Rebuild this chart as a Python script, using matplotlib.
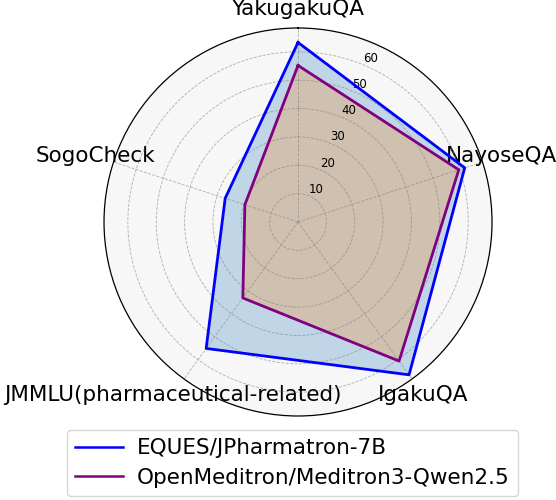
import numpy as np
import matplotlib
matplotlib.use("Agg")
import matplotlib.pyplot as plt

categories = ["YakugakuQA", "NayoseQA", "IgakuQA", "JMMLU(pharmaceutical-related)", "SogoCheck"]
series_names = ["EQUES/JPharmatron-7B", "OpenMeditron/Meditron3-Qwen2.5"]
jpharmatron = [63.3, 61.8, 66.6, 55.1, 27.0]
meditron = [55.2, 59.6, 60.6, 33.1, 19.7]
rticks = [10, 20, 30, 40, 50, 60]
rmax = 68.4

line_colors = ["blue", "purple"]
fill_colors = ["C0", "C1"]

fig = plt.figure(figsize=(5.56, 5.0), dpi=100)
ax = fig.add_axes([0.187, 0.168, 0.698, 0.776], projection="polar")
ax.set_theta_offset(np.pi / 2)
ax.set_theta_direction(-1)
ax.set_facecolor("#f7f7f7")

n = len(categories)
angles = np.linspace(0, 2 * np.pi, n, endpoint=False)
closed = np.concatenate([angles, angles[:1]])

for name, vals, lc, fc in zip(series_names, [jpharmatron, meditron], line_colors, fill_colors):
    v = np.concatenate([vals, vals[:1]])
    ax.plot(closed, v, color=lc, linewidth=2, label=name)
    ax.fill(closed, v, color=fc, alpha=0.25)

ax.set_xticks(angles)
ax.set_xticklabels(categories, fontsize=15.5)
ax.set_yticks(rticks)
ax.set_yticklabels([str(t) for t in rticks], fontsize=8.5)
ax.set_ylim(0, rmax)
ax.grid(True, color="gray", linestyle="--", linewidth=0.6, alpha=0.6)
ax.spines["polar"].set_color("black")
ax.spines["polar"].set_linewidth(0.9)

leg = fig.legend(loc="upper center", bbox_to_anchor=(0.526, 0.141), fontsize=15.5,
                 frameon=True, handlelength=2.2, borderaxespad=0.0,
                 labelspacing=0.45, borderpad=0.4, handletextpad=0.65)
for line in leg.get_lines():
    line.set_linewidth(1.8)

fig.savefig("out.png", dpi=100)
